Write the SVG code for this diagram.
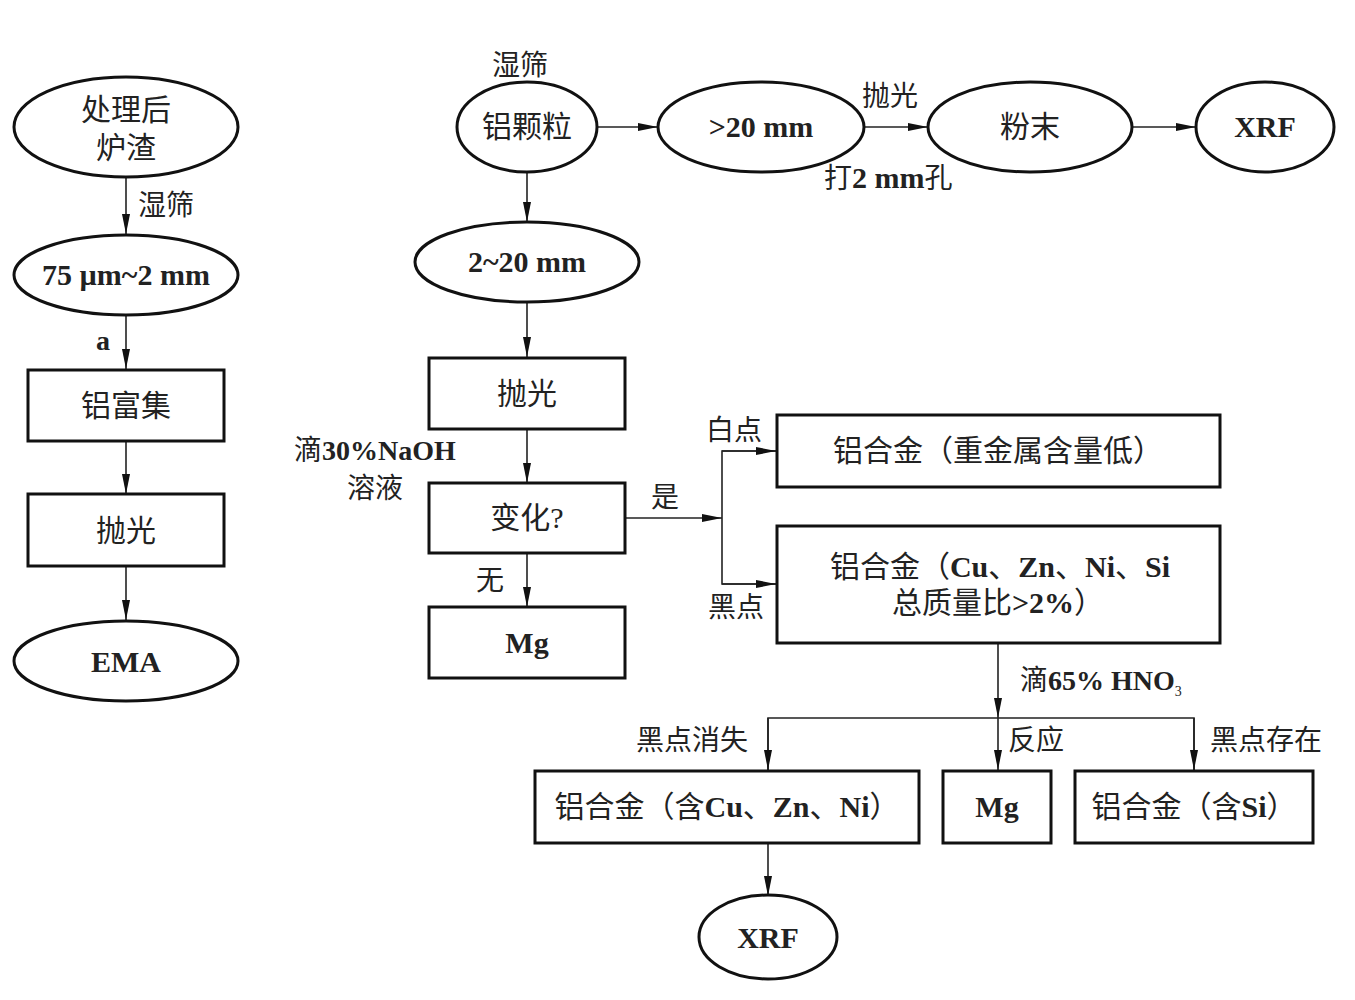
<svg xmlns="http://www.w3.org/2000/svg" width="1355" height="1000" viewBox="0 0 1355 1000">
<defs>
<marker id="ah" viewBox="0 0 20 10" refX="20" refY="5" markerWidth="20" markerHeight="10" markerUnits="userSpaceOnUse" orient="auto">
<path d="M0,1 L20,5 L0,9 Z" fill="#111"/>
</marker>
<style>
.n{fill:#fff;stroke:#111;stroke-width:3}
.t{font-family:"Liberation Serif","Noto Sans CJK SC",serif;font-size:30px;fill:#222;text-anchor:middle}
.b{font-weight:bold}
.l{font-family:"Liberation Serif","Noto Sans CJK SC",serif;font-size:28px;fill:#222}
.c{fill:none;stroke:#222;stroke-width:1.6}
</style>
</defs>
<rect width="1355" height="1000" fill="#fff"/>
<g id="connectors">
<line class="c" x1="126" y1="177" x2="126" y2="234" marker-end="url(#ah)"/>
<line class="c" x1="126" y1="315" x2="126" y2="369" marker-end="url(#ah)"/>
<line class="c" x1="126" y1="441" x2="126" y2="494" marker-end="url(#ah)"/>
<line class="c" x1="126" y1="566" x2="126" y2="620" marker-end="url(#ah)"/>
<line class="c" x1="598" y1="127" x2="658" y2="127" marker-end="url(#ah)"/>
<line class="c" x1="864" y1="127" x2="928" y2="127" marker-end="url(#ah)"/>
<line class="c" x1="1132" y1="127" x2="1196" y2="127" marker-end="url(#ah)"/>
<line class="c" x1="527" y1="172" x2="527" y2="222" marker-end="url(#ah)"/>
<line class="c" x1="527" y1="302" x2="527" y2="357" marker-end="url(#ah)"/>
<line class="c" x1="527" y1="429" x2="527" y2="483" marker-end="url(#ah)"/>
<line class="c" x1="527" y1="553" x2="527" y2="607" marker-end="url(#ah)"/>
<line class="c" x1="625" y1="518" x2="722" y2="518" marker-end="url(#ah)"/>
<polyline class="c" points="776,451 722,451 722,584 776,584"/>
<line class="c" x1="722" y1="451" x2="776" y2="451" marker-end="url(#ah)"/>
<line class="c" x1="722" y1="584" x2="776" y2="584" marker-end="url(#ah)"/>
<line class="c" x1="998" y1="643" x2="998" y2="718" marker-end="url(#ah)"/>
<polyline class="c" points="768,770 768,718 1194,718 1194,770"/>
<line class="c" x1="768" y1="718" x2="768" y2="770" marker-end="url(#ah)"/>
<line class="c" x1="998" y1="718" x2="998" y2="770" marker-end="url(#ah)"/>
<line class="c" x1="1194" y1="718" x2="1194" y2="770" marker-end="url(#ah)"/>
<line class="c" x1="768" y1="843" x2="768" y2="896" marker-end="url(#ah)"/>
</g>
<g id="labels">
<text class="l" x="138" y="215">湿筛</text>
<text class="l b" x="96" y="350">a</text>
<text class="l" x="492" y="75">湿筛</text>
<text class="l" x="862" y="106">抛光</text>
<text class="l" x="824" y="188"><tspan>打</tspan><tspan class="b" font-size="30">2 mm</tspan><tspan>孔</tspan></text>
<text class="l" x="375" y="460" text-anchor="middle">滴<tspan class="b">30%NaOH</tspan></text>
<text class="l" x="375" y="498" text-anchor="middle">溶液</text>
<text class="l" x="476" y="590">无</text>
<text class="l" x="651" y="507">是</text>
<text class="l" x="706" y="440">白点</text>
<text class="l" x="708" y="617">黑点</text>
<text class="l" x="1020" y="690">滴<tspan class="b">65% HNO</tspan><tspan font-size="14" dy="6">3</tspan></text>
<text class="l" x="636" y="750">黑点消失</text>
<text class="l" x="1008" y="750">反应</text>
<text class="l" x="1210" y="750">黑点存在</text>
</g>
<g id="n1"><ellipse class="n" cx="126" cy="127" rx="112" ry="50"/><text class="t" x="126" y="120">处理后</text><text class="t" x="126" y="158">炉渣</text></g>
<g id="n2"><ellipse class="n" cx="126" cy="275" rx="112" ry="40"/><text class="t b" x="126" y="285">75 µm~2 mm</text></g>
<g id="n3"><rect class="n" x="28" y="370" width="196" height="71"/><text class="t" x="126" y="416">铝富集</text></g>
<g id="n4"><rect class="n" x="28" y="494" width="196" height="72"/><text class="t" x="126" y="541">抛光</text></g>
<g id="n5"><ellipse class="n" cx="126" cy="661" rx="112" ry="40"/><text class="t b" x="126" y="672">EMA</text></g>
<g id="n6"><ellipse class="n" cx="527" cy="127" rx="70" ry="45"/><text class="t" x="527" y="137">铝颗粒</text></g>
<g id="n7"><ellipse class="n" cx="761" cy="127" rx="103" ry="45"/><text class="t b" x="761" y="137">&gt;20 mm</text></g>
<g id="n8"><ellipse class="n" cx="1030" cy="127" rx="102" ry="45"/><text class="t" x="1030" y="137">粉末</text></g>
<g id="n9"><ellipse class="n" cx="1265" cy="127" rx="69" ry="45"/><text class="t b" x="1265" y="137">XRF</text></g>
<g id="n10"><ellipse class="n" cx="527" cy="262" rx="112" ry="40"/><text class="t b" x="527" y="272">2~20 mm</text></g>
<g id="n11"><rect class="n" x="429" y="358" width="196" height="71"/><text class="t" x="527" y="404">抛光</text></g>
<g id="n12"><rect class="n" x="429" y="483" width="196" height="70"/><text class="t" x="527" y="528">变化?</text></g>
<g id="n13"><rect class="n" x="429" y="607" width="196" height="71"/><text class="t b" x="527" y="653">Mg</text></g>
<g id="n14"><rect class="n" x="777" y="415" width="443" height="72"/><text class="t" x="998" y="461">铝合金（重金属含量低）</text></g>
<g id="n15"><rect class="n" x="777" y="526" width="443" height="117"/><text class="t" x="1000" y="577">铝合金（<tspan class="b">Cu</tspan>、<tspan class="b">Zn</tspan>、<tspan class="b">Ni</tspan>、<tspan class="b">Si</tspan></text><text class="t" x="998" y="613">总质量比<tspan class="b">&gt;2%</tspan>）</text></g>
<g id="n16"><rect class="n" x="535" y="771" width="384" height="72"/><text class="t" x="727" y="817">铝合金（含<tspan class="b">Cu</tspan>、<tspan class="b">Zn</tspan>、<tspan class="b">Ni</tspan>）</text></g>
<g id="n17"><rect class="n" x="943" y="771" width="108" height="72"/><text class="t b" x="997" y="817">Mg</text></g>
<g id="n18"><rect class="n" x="1075" y="771" width="238" height="72"/><text class="t" x="1194" y="817">铝合金（含<tspan class="b">Si</tspan>）</text></g>
<g id="n19"><ellipse class="n" cx="768" cy="937" rx="69" ry="42"/><text class="t b" x="768" y="948">XRF</text></g>
</svg>
